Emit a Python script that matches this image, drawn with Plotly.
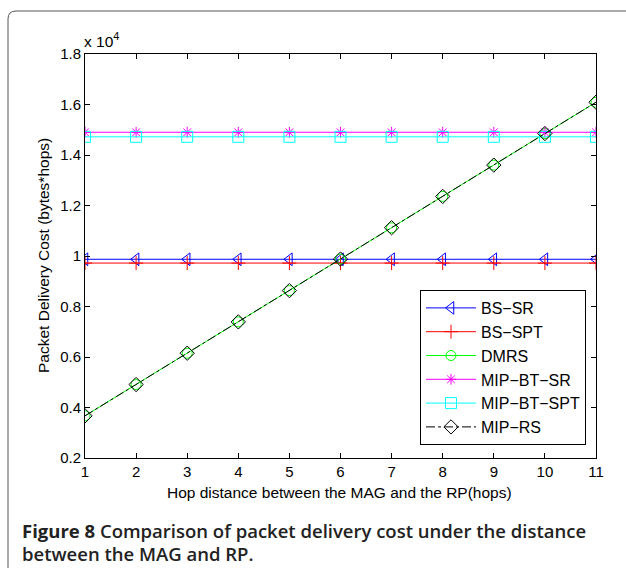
import plotly.graph_objects as go

hops = [1, 2, 3, 4, 5, 6, 7, 8, 9, 10, 11]
bs_sr = [9870] * 11
bs_spt = [9720] * 11
dmrs = [3670, 4910, 6150, 7390, 8630, 9880, 11120, 12360, 13600, 14850, 16090]
mip_bt_sr = [14900] * 11
mip_bt_spt = [14720] * 11
mip_rs = [3670, 4910, 6150, 7390, 8630, 9880, 11120, 12360, 13600, 14850, 16090]

y_tickvals = [2000, 4000, 6000, 8000, 10000, 12000, 14000, 16000, 18000]
y_ticktext = ["0.2", "0.4", "0.6", "0.8", "1", "1.2", "1.4", "1.6", "1.8"]

series = [
    ("BS\u2212SR", bs_sr, "#0000ff", "triangle-left-open", "solid", 11),
    ("BS\u2212SPT", bs_spt, "#ff0000", "cross-thin-open", "solid", 10),
    ("DMRS", dmrs, "#00ff00", "circle-open", "solid", 10),
    ("MIP\u2212BT\u2212SR", mip_bt_sr, "#ff00ff", "asterisk-open", "solid", 9),
    ("MIP\u2212BT\u2212SPT", mip_bt_spt, "#00ffff", "square-open", "solid", 11),
    ("MIP\u2212RS", mip_rs, "#000000", "diamond-open", "dashdot", 11),
]

fig = go.Figure()
for name, vals, col, sym, dash, size in series:
    fig.add_trace(go.Scatter(
        x=hops, y=vals, name=name, mode="lines+markers",
        line=dict(color=col, width=1, dash=dash),
        marker=dict(symbol=sym, size=size, color=col, line=dict(color=col, width=1)),
    ))

W, H = 626, 568
L, R, T, B = 85, 30, 54, 110
pw, ph = W - L - R, H - T - B

def px(x):
    return (x - L) / pw

def py(y):
    return (H - B - y) / ph

axis_font = dict(family="Liberation Sans, Arial, sans-serif", size=15.5, color="#000")
tick_font = dict(family="Liberation Sans, Arial, sans-serif", size=15, color="#000")

fig.update_layout(
    width=W, height=H,
    margin=dict(l=L, r=R, t=T, b=B),
    paper_bgcolor="white", plot_bgcolor="white",
    showlegend=True,
    legend=dict(
        x=px(586), y=py(445), xanchor="right", yanchor="bottom",
        bgcolor="white", bordercolor="black", borderwidth=1,
        font=dict(family="Liberation Sans, Arial, sans-serif", size=16, color="#000"),
        itemwidth=50, tracegroupgap=0,
    ),
    xaxis=dict(
        range=[1, 11], tickvals=hops, ticks="inside", ticklen=5, tickcolor="black",
        showline=True, linecolor="black", linewidth=1, mirror="allticks",
        showgrid=False, zeroline=False, tickfont=tick_font,
    ),
    yaxis=dict(
        range=[2000, 18000], tickvals=y_tickvals, ticktext=y_ticktext,
        ticks="inside", ticklen=5, tickcolor="black",
        showline=True, linecolor="black", linewidth=1, mirror="allticks",
        showgrid=False, zeroline=False, tickfont=tick_font,
    ),
)

fig.add_annotation(text="Hop distance between the MAG and the RP(hops)",
                   xref="paper", yref="paper", x=px(339), y=py(492), showarrow=False,
                   font=axis_font, xanchor="center", yanchor="middle")
fig.add_annotation(text="Packet Delivery Cost (bytes*hops)",
                   xref="paper", yref="paper", x=px(43), y=0.5, showarrow=False,
                   font=axis_font, textangle=-90, xanchor="center", yanchor="middle")
fig.add_annotation(text="x 10<sup>4</sup>",
                   xref="paper", yref="paper", x=px(82), y=py(40), showarrow=False,
                   font=axis_font, xanchor="left", yanchor="middle")

cap_font = dict(family="Open Sans, Noto Sans, sans-serif", size=18.5, color="#222",
                weight=600)
fig.add_annotation(text="<b>Figure 8</b> Comparison of packet delivery cost under the distance",
                   xref="paper", yref="paper", x=px(20), y=py(530), showarrow=False,
                   font=cap_font, xanchor="left", yanchor="middle")
fig.add_annotation(text="between the MAG and RP.",
                   xref="paper", yref="paper", x=px(20), y=py(553), showarrow=False,
                   font=cap_font, xanchor="left", yanchor="middle")

# outer rounded frame
r = 8
path = (f"M {px(8)} {py(570)} L {px(8)} {py(11 + r)} "
        f"Q {px(8)} {py(11)} {px(8 + r)} {py(11)} L {px(630)} {py(11)}")
fig.add_shape(type="path", path=path, xref="paper", yref="paper",
              line=dict(color="#555", width=1))

fig.write_html("out.html")
